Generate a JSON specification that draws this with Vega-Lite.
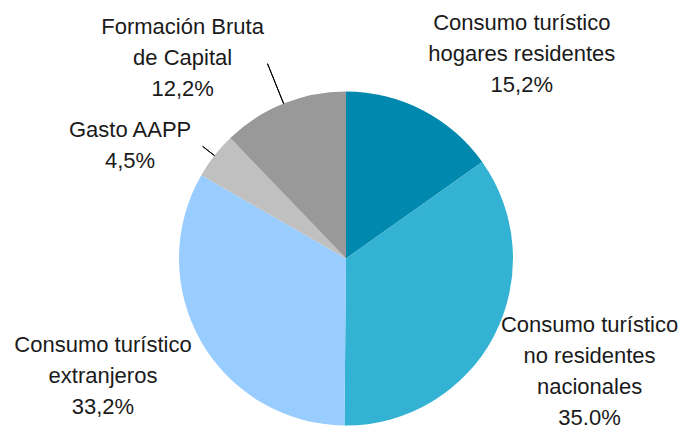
{
  "$schema": "https://vega.github.io/schema/vega-lite/v6.json",
  "width": 668,
  "height": 339,
  "autosize": {"type": "none"},
  "padding": {"left": 12, "top": 89, "right": 1, "bottom": 0},
  "background": "white",
  "view": {"stroke": null},
  "data": {
    "values": [
      {"k": 1, "cat": "Consumo turístico hogares residentes", "label": "Consumo turístico\nhogares residentes\n15,2%", "value": 15.2},
      {"k": 2, "cat": "Consumo turístico no residentes nacionales", "label": "Consumo turístico\nno residentes\nnacionales\n35.0%", "value": 35.0},
      {"k": 3, "cat": "Consumo turístico extranjeros", "label": "Consumo turístico\nextranjeros\n33,2%", "value": 33.2},
      {"k": 4, "cat": "Gasto AAPP", "label": "Gasto AAPP\n4,5%", "value": 4.5},
      {"k": 5, "cat": "Formación Bruta de Capital", "label": "Formación Bruta\nde Capital\n12,2%", "value": 12.2}
    ]
  },
  "encoding": {
    "theta": {"field": "value", "type": "quantitative", "stack": true},
    "order": {"field": "k", "type": "quantitative"}
  },
  "layer": [
    {
      "mark": {"type": "arc", "radius": 167},
      "encoding": {
        "color": {
          "field": "cat",
          "type": "nominal",
          "sort": null,
          "scale": {
            "domain": ["Consumo turístico hogares residentes", "Consumo turístico no residentes nacionales", "Consumo turístico extranjeros", "Gasto AAPP", "Formación Bruta de Capital"],
            "range": ["#0088AE", "#33B2D3", "#99CCFF", "#C0C0C0", "#999999"]
          },
          "legend": null
        }
      }
    },
    {
      "mark": {
        "type": "arc",
        "radius": 167,
        "radius2": {"expr": "datum.k == 5 ? 210 : 182"},
        "padAngle": 3,
        "fill": null,
        "fillOpacity": 0,
        "stroke": "#000000",
        "strokeWidth": 1,
        "strokeOpacity": {"expr": "datum.k >= 4 ? 1 : 0"}
      }
    },
    {
      "mark": {
        "type": "text",
        "radius": 250,
        "font": "Liberation Sans",
        "fontSize": 22,
        "lineHeight": 31,
        "lineBreak": "\n",
        "align": "center",
        "baseline": "middle",
        "color": "#1a1a1a",
        "dx": {"expr": "datum.k == 1 ? 61 : datum.k == 2 ? 22 : datum.k == 3 ? -26 : datum.k == 4 ? -19 : -70"},
        "dy": {"expr": "datum.k == 1 ? -13 : datum.k == 2 ? -49 : datum.k == 3 ? -38 : datum.k == 4 ? 26 : 0"}
      },
      "encoding": {
        "text": {"field": "label", "type": "nominal"}
      }
    }
  ]
}
